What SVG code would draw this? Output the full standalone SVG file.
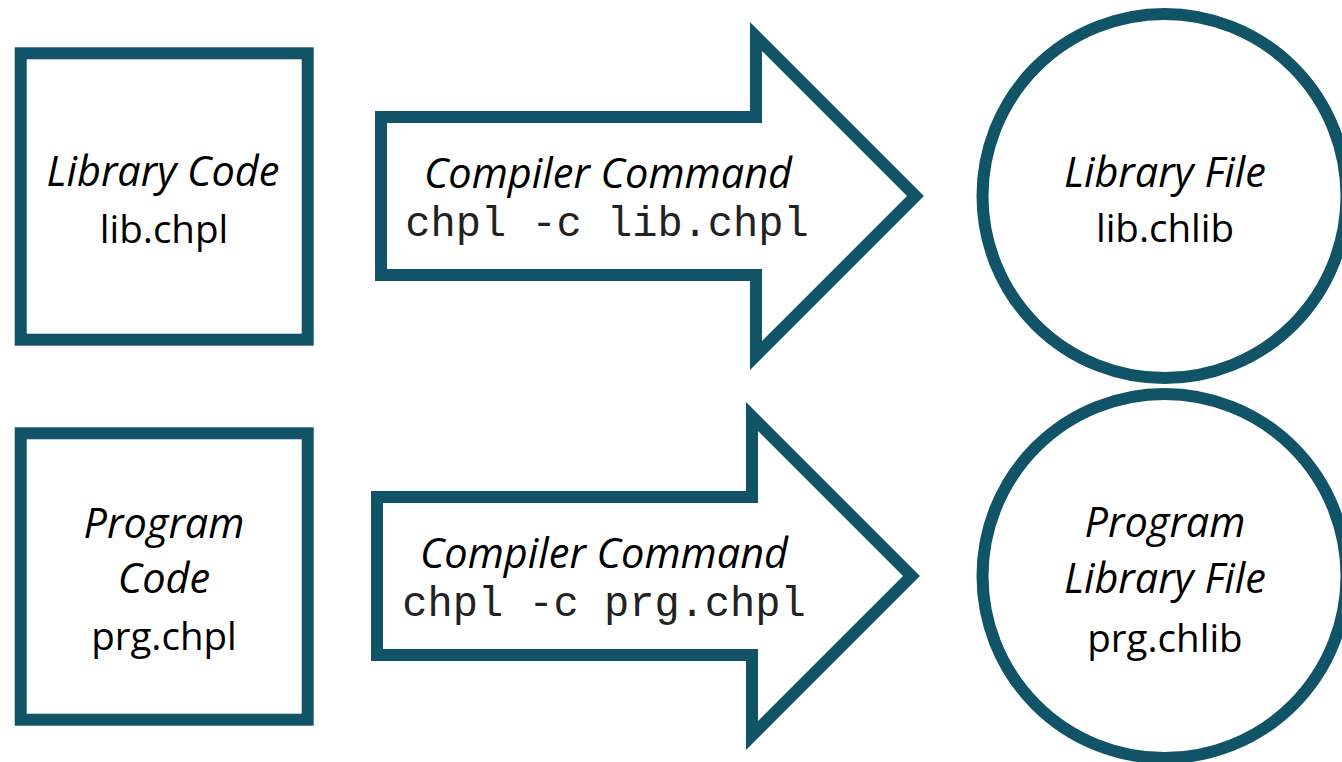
<svg xmlns="http://www.w3.org/2000/svg" width="1342" height="762" viewBox="0 0 1342 762">
  <style>
    .shape { fill: #ffffff; stroke: #115467; stroke-width: 12; stroke-linejoin: miter; stroke-miterlimit: 10; }
    .it { font-family: "Open Sans", "Noto Sans", sans-serif; font-style: italic; font-size: 41.5px; fill: #000000; text-anchor: middle; }
    .rg { font-family: "Open Sans", "Noto Sans", sans-serif; font-size: 38.5px; fill: #000000; text-anchor: middle; }
    .mono { font-family: "Liberation Mono", "Courier New", monospace; font-size: 42px; fill: #222222; text-anchor: middle; }
  </style>
  <rect width="1342" height="762" fill="#ffffff"/>

  <!-- source files -->
  <g id="library-code">
    <rect class="shape" x="20.7" y="53.3" width="287" height="286.4"/>
    <text class="it" x="163" y="186">Library Code</text>
    <text class="rg" x="164" y="243">lib.chpl</text>
  </g>
  <g id="program-code">
    <rect class="shape" x="20.7" y="433.3" width="287" height="286.4"/>
    <text class="it" x="164" y="538">Program</text>
    <text class="it" x="164" y="593">Code</text>
    <text class="rg" x="164" y="650">prg.chpl</text>
  </g>

  <!-- compile steps -->
  <g id="connectors">
    <g id="compile-lib">
      <polygon class="shape" points="381,117 756,117 756,36.5 915.5,196 756,355.5 756,275 381,275"/>
      <text class="it" x="608" y="188">Compiler Command</text>
      <text class="mono" x="607" y="236">chpl -c lib.chpl</text>
    </g>
    <g id="compile-prg">
      <polygon class="shape" points="377,497 752,497 752,416.5 911.5,576 752,735.5 752,655 377,655"/>
      <text class="it" x="604" y="568">Compiler Command</text>
      <text class="mono" x="604" y="616">chpl -c prg.chpl</text>
    </g>
  </g>

  <!-- outputs -->
  <g id="library-file">
    <circle class="shape" cx="1164.5" cy="196" r="182"/>
    <text class="it" x="1165" y="187">Library File</text>
    <text class="rg" x="1165" y="242">lib.chlib</text>
  </g>
  <g id="program-library-file">
    <circle class="shape" cx="1164.5" cy="576" r="182"/>
    <text class="it" x="1165" y="537">Program</text>
    <text class="it" x="1165" y="593">Library File</text>
    <text class="rg" x="1165" y="652">prg.chlib</text>
  </g>
</svg>
